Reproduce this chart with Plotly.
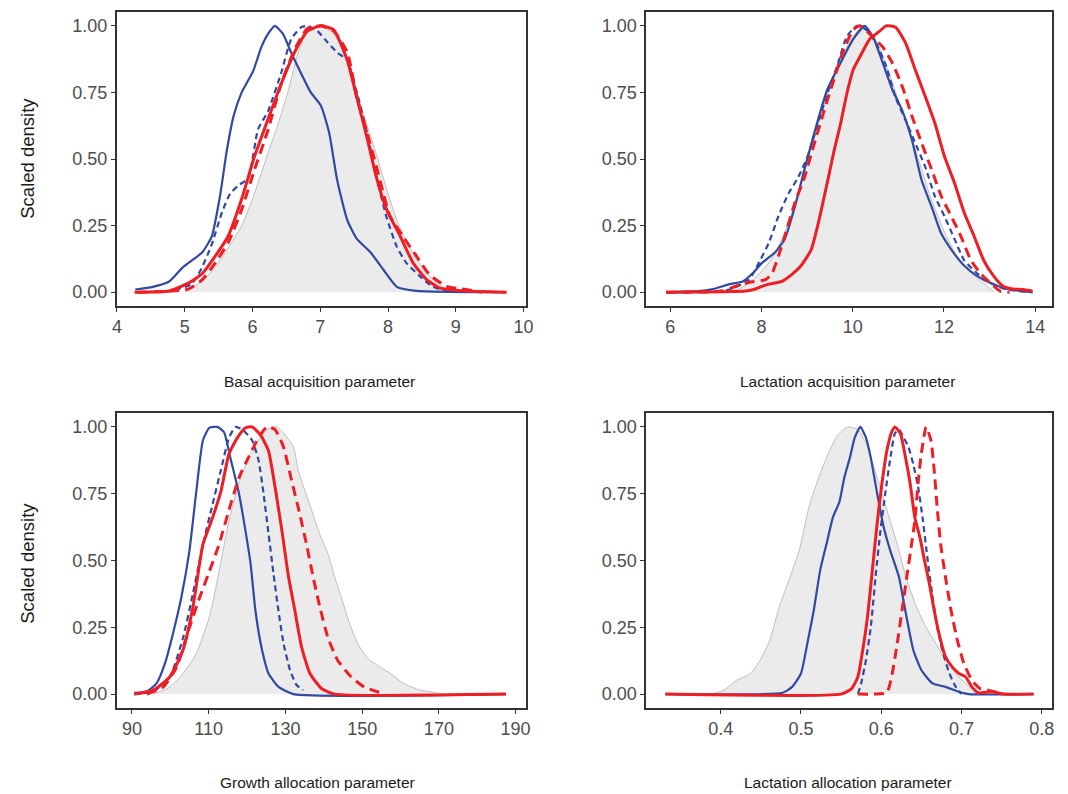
import plotly.graph_objects as go

# ---------------- Data ----------------
# Panel 1: Basal acquisition parameter
p1_prior_x = [5.0, 5.3, 5.6, 5.84, 6.0, 6.2, 6.4, 6.52, 6.7, 6.85, 7.0, 7.2, 7.4, 7.6, 7.8, 8.0, 8.13, 8.2, 8.4, 8.6, 8.8, 9.0]
p1_prior_y = [0.0, 0.05, 0.15, 0.25, 0.35, 0.5, 0.65, 0.75, 0.92, 0.99, 1.0, 0.97, 0.87, 0.70, 0.54, 0.37, 0.27, 0.23, 0.13, 0.065, 0.02, 0.0]

p1_blue_x = [4.27, 4.53, 4.77, 4.96, 5.11, 5.26, 5.40, 5.52, 5.62, 5.72, 5.84, 6.01, 6.13, 6.23, 6.33, 6.45, 6.57, 6.72, 6.86, 7.01, 7.13, 7.25, 7.40, 7.54, 7.74, 7.93, 8.13, 8.42, 9.73]
p1_blue_y = [0.01, 0.02, 0.04, 0.09, 0.12, 0.15, 0.21, 0.36, 0.53, 0.66, 0.75, 0.83, 0.92, 0.97, 1.0, 0.97, 0.90, 0.82, 0.75, 0.70, 0.60, 0.42, 0.27, 0.20, 0.15, 0.085, 0.02, 0.005, 0.0]

p1_bluedash_x = [4.27, 4.8, 5.1, 5.25, 5.40, 5.55, 5.67, 5.79, 5.94, 6.08, 6.23, 6.42, 6.57, 6.72, 6.81, 6.96, 7.10, 7.25, 7.40, 7.54, 7.69, 7.83, 7.98, 8.13, 8.27, 8.47, 8.66, 8.9, 9.73]
p1_bluedash_y = [0.0, 0.005, 0.03, 0.09, 0.18, 0.30, 0.37, 0.40, 0.43, 0.61, 0.68, 0.82, 0.95, 0.995, 1.0, 0.98, 0.94, 0.90, 0.87, 0.75, 0.60, 0.43, 0.28, 0.17, 0.11, 0.06, 0.02, 0.004, 0.0]

p1_red_x = [4.26, 4.77, 5.06, 5.26, 5.45, 5.64, 5.84, 6.03, 6.23, 6.42, 6.62, 6.81, 7.01, 7.20, 7.40, 7.54, 7.69, 7.83, 7.98, 8.18, 8.37, 8.57, 8.76, 9.15, 9.75]
p1_red_y = [0.0, 0.004, 0.035, 0.07, 0.135, 0.21, 0.35, 0.51, 0.65, 0.78, 0.90, 0.98, 1.0, 0.985, 0.87, 0.73, 0.58, 0.43, 0.31, 0.21, 0.11, 0.047, 0.016, 0.004, 0.0]

p1_reddash_x = [4.3, 4.8, 5.06, 5.26, 5.45, 5.64, 5.84, 6.03, 6.23, 6.42, 6.62, 6.81, 7.01, 7.20, 7.40, 7.54, 7.69, 7.83, 8.03, 8.22, 8.42, 8.61, 8.86, 9.15, 9.39]
p1_reddash_y = [0.0, 0.004, 0.012, 0.047, 0.11, 0.185, 0.31, 0.46, 0.61, 0.78, 0.91, 0.99, 1.0, 0.98, 0.90, 0.73, 0.60, 0.47, 0.285, 0.21, 0.135, 0.066, 0.022, 0.01, 0.0]

# Panel 2: Lactation acquisition parameter
p2_prior_x = [7.3, 7.6, 7.9, 8.2, 8.5, 8.8, 9.1, 9.4, 9.7, 10.0, 10.25, 10.5, 10.8, 11.1, 11.4, 11.7, 12.0, 12.3, 12.6, 12.9, 13.1]
p2_prior_y = [0.0, 0.02, 0.06, 0.12, 0.22, 0.37, 0.55, 0.72, 0.86, 0.96, 1.0, 0.95, 0.82, 0.67, 0.52, 0.36, 0.23, 0.13, 0.07, 0.03, 0.0]

p2_blue_x = [5.91, 6.59, 6.94, 7.3, 7.59, 7.8, 8.01, 8.3, 8.51, 8.73, 8.94, 9.16, 9.44, 9.73, 10.01, 10.26, 10.44, 10.66, 10.87, 11.09, 11.3, 11.51, 11.73, 11.94, 12.16, 12.44, 12.73, 13.01, 13.3, 13.59, 13.94]
p2_blue_y = [0.0, 0.004, 0.012, 0.03, 0.04, 0.07, 0.11, 0.15, 0.2, 0.32, 0.46, 0.6, 0.76, 0.86, 0.95, 1.0, 0.96, 0.86, 0.76, 0.68, 0.57, 0.42, 0.32, 0.22, 0.16, 0.1, 0.06, 0.035, 0.016, 0.007, 0.0]

p2_bluedash_x = [5.91, 6.9, 7.3, 7.73, 7.94, 8.16, 8.37, 8.59, 8.8, 9.01, 9.23, 9.44, 9.66, 9.87, 10.09, 10.3, 10.51, 10.73, 10.94, 11.16, 11.37, 11.59, 11.8, 12.01, 12.23, 12.44, 12.73, 13.01, 13.37, 13.94]
p2_bluedash_y = [0.0, 0.002, 0.01, 0.047, 0.11, 0.185, 0.285, 0.37, 0.43, 0.51, 0.63, 0.745, 0.85, 0.96, 1.0, 0.985, 0.935, 0.85, 0.73, 0.645, 0.56, 0.47, 0.36, 0.285, 0.2, 0.12, 0.07, 0.035, 0.01, 0.0]

p2_red_x = [5.91, 7.66, 7.87, 8.01, 8.16, 8.44, 8.66, 8.87, 9.09, 9.26, 9.44, 9.59, 9.73, 9.87, 10.01, 10.16, 10.37, 10.59, 10.73, 10.94, 11.16, 11.37, 11.59, 11.8, 12.01, 12.23, 12.44, 12.66, 12.87, 13.09, 13.3, 13.51, 13.73, 13.94]
p2_red_y = [0.0, 0.004, 0.012, 0.022, 0.03, 0.04, 0.066, 0.1, 0.16, 0.27, 0.41, 0.53, 0.63, 0.745, 0.835, 0.885, 0.95, 0.98, 1.0, 0.995, 0.935, 0.835, 0.735, 0.635, 0.51, 0.41, 0.3, 0.21, 0.12, 0.06, 0.022, 0.012, 0.01, 0.004]

p2_reddash_x = [5.91, 7.16, 7.44, 7.73, 8.09, 8.23, 8.37, 8.51, 8.73, 8.94, 9.16, 9.37, 9.59, 9.8, 10.01, 10.16, 10.37, 10.66, 10.87, 11.09, 11.3, 11.51, 11.73, 11.94, 12.16, 12.37, 12.59, 12.8, 13.01, 13.23, 13.44]
p2_reddash_y = [0.0, 0.004, 0.022, 0.037, 0.047, 0.07, 0.135, 0.21, 0.335, 0.43, 0.56, 0.68, 0.8, 0.91, 0.985, 1.0, 0.97, 0.92, 0.86, 0.77, 0.66, 0.56, 0.46, 0.36, 0.285, 0.21, 0.12, 0.07, 0.035, 0.004, 0.0]

# Panel 3: Growth allocation parameter
p3_prior_x = [95.6, 99.9, 103.3, 106.7, 110.2, 112.7, 115.3, 117.9, 120.5, 123.0, 125.6, 127.8, 129.9, 132.1, 133.3, 135.1, 136.8, 138.9, 141.1, 142.8, 144.5, 146.7, 148.8, 151.4, 154.8, 157.4, 160.8, 165.1, 169.4, 170.3]
p3_prior_y = [0.0, 0.027, 0.077, 0.15, 0.29, 0.46, 0.65, 0.79, 0.89, 0.95, 0.994, 1.0, 0.97, 0.925, 0.84, 0.76, 0.69, 0.6, 0.525, 0.44, 0.365, 0.265, 0.19, 0.135, 0.1, 0.077, 0.04, 0.015, 0.005, 0.0]

p3_blue_x = [90.6, 93.9, 96.4, 98.6, 100.7, 102.9, 105.0, 106.7, 108.5, 110.2, 112.3, 114.0, 115.8, 117.9, 119.6, 120.9, 122.2, 123.9, 125.6, 128.2, 132.1, 187.5]
p3_blue_y = [0.005, 0.01, 0.04, 0.115, 0.227, 0.364, 0.539, 0.75, 0.95, 0.997, 1.0, 0.98, 0.875, 0.75, 0.61, 0.49, 0.31, 0.165, 0.077, 0.027, 0.0, 0.0]

p3_bluedash_x = [90.6, 95.6, 99.9, 103.3, 105.9, 108.5, 111.0, 113.2, 115.3, 117.0, 118.8, 121.3, 123.0, 124.3, 125.6, 126.9, 128.2, 129.5, 131.2, 132.9, 134.6]
p3_bluedash_y = [0.0, 0.01, 0.065, 0.21, 0.377, 0.56, 0.71, 0.84, 0.96, 1.0, 0.99, 0.95, 0.875, 0.75, 0.6, 0.45, 0.31, 0.19, 0.09, 0.034, 0.015]

p3_red_x = [90.6, 95.6, 99.9, 103.3, 105.9, 108.5, 111.0, 113.2, 115.3, 117.5, 119.6, 121.3, 123.5, 125.6, 127.3, 129.1, 130.8, 132.5, 134.2, 136.4, 139.4, 142.8, 187.5]
p3_red_y = [0.0, 0.015, 0.065, 0.165, 0.327, 0.56, 0.66, 0.76, 0.9, 0.96, 0.997, 1.0, 0.97, 0.91, 0.775, 0.61, 0.44, 0.31, 0.177, 0.077, 0.021, 0.0, 0.0]

p3_reddash_x = [93.9, 98.2, 101.6, 105.0, 107.6, 110.2, 112.7, 115.3, 117.9, 120.5, 123.0, 125.2, 127.3, 129.5, 131.6, 133.8, 135.5, 137.2, 138.9, 141.1, 143.6, 147.1, 150.5, 154.8]
p3_reddash_y = [0.0, 0.027, 0.1, 0.25, 0.36, 0.46, 0.56, 0.69, 0.81, 0.89, 0.96, 1.0, 0.99, 0.925, 0.8, 0.67, 0.56, 0.44, 0.33, 0.21, 0.127, 0.065, 0.027, 0.005]

# Panel 4: Lactation allocation parameter
p4_prior_x = [0.388, 0.404, 0.42, 0.437, 0.449, 0.461, 0.473, 0.485, 0.498, 0.51, 0.522, 0.534, 0.546, 0.559, 0.571, 0.583, 0.595, 0.607, 0.62, 0.632, 0.644, 0.656, 0.668, 0.68, 0.693, 0.705, 0.717, 0.72]
p4_prior_y = [0.0, 0.015, 0.052, 0.077, 0.127, 0.2, 0.327, 0.426, 0.54, 0.70, 0.81, 0.9, 0.97, 1.0, 0.99, 0.925, 0.81, 0.69, 0.56, 0.426, 0.327, 0.25, 0.19, 0.127, 0.077, 0.04, 0.009, 0.0]

p4_blue_x = [0.331, 0.477, 0.489, 0.5, 0.508, 0.516, 0.524, 0.532, 0.54, 0.548, 0.554, 0.561, 0.567, 0.574, 0.581, 0.587, 0.595, 0.603, 0.611, 0.622, 0.63, 0.64, 0.65, 0.664, 0.68, 0.697, 0.709, 0.79]
p4_blue_y = [0.0, 0.005, 0.027, 0.077, 0.19, 0.314, 0.464, 0.564, 0.663, 0.72, 0.81, 0.885, 0.96, 1.0, 0.96, 0.885, 0.75, 0.626, 0.54, 0.44, 0.314, 0.165, 0.09, 0.04, 0.027, 0.009, 0.0, 0.0]

p4_bluedash_x = [0.571, 0.575, 0.581, 0.587, 0.593, 0.599, 0.605, 0.611, 0.617, 0.622, 0.628, 0.634, 0.64, 0.646, 0.652, 0.658, 0.664, 0.67, 0.676, 0.685, 0.693, 0.70]
p4_bluedash_y = [0.0, 0.04, 0.127, 0.25, 0.44, 0.61, 0.75, 0.875, 0.975, 0.99, 0.96, 0.925, 0.86, 0.775, 0.65, 0.5, 0.364, 0.25, 0.165, 0.077, 0.027, 0.0]

p4_red_x = [0.331, 0.55, 0.563, 0.571, 0.577, 0.583, 0.589, 0.595, 0.601, 0.607, 0.613, 0.617, 0.624, 0.63, 0.636, 0.642, 0.648, 0.654, 0.66, 0.666, 0.672, 0.68, 0.689, 0.697, 0.705, 0.713, 0.721, 0.737, 0.754, 0.79]
p4_red_y = [0.0, 0.0, 0.02, 0.065, 0.165, 0.29, 0.464, 0.64, 0.79, 0.91, 0.98, 1.0, 0.975, 0.89, 0.79, 0.66, 0.59, 0.5, 0.414, 0.314, 0.227, 0.14, 0.1, 0.077, 0.065, 0.027, 0.005, 0.009, 0.0, 0.0]

p4_reddash_x = [0.571, 0.591, 0.607, 0.613, 0.62, 0.626, 0.632, 0.638, 0.642, 0.646, 0.65, 0.656, 0.662, 0.666, 0.67, 0.674, 0.68, 0.687, 0.695, 0.703, 0.713, 0.723, 0.733, 0.746, 0.75]
p4_reddash_y = [0.0, 0.0, 0.005, 0.065, 0.19, 0.314, 0.44, 0.564, 0.65, 0.79, 0.9, 1.0, 0.95, 0.84, 0.69, 0.564, 0.44, 0.314, 0.2, 0.115, 0.052, 0.021, 0.015, 0.005, 0.0]

x_titles = ["Basal acquisition parameter", "Lactation acquisition parameter",
            "Growth allocation parameter", "Lactation allocation parameter"]
y_title = "Scaled density"
y_ticks = [0, 0.25, 0.5, 0.75, 1.0]
y_ticklabels = ["0.00", "0.25", "0.50", "0.75", "1.00"]
x_ticks = [[4, 5, 6, 7, 8, 9, 10], [6, 8, 10, 12, 14],
           [90, 110, 130, 150, 170, 190], [0.4, 0.5, 0.6, 0.7, 0.8]]
x_ticklabels = [["4", "5", "6", "7", "8", "9", "10"], ["6", "8", "10", "12", "14"],
                ["90", "110", "130", "150", "170", "190"], ["0.4", "0.5", "0.6", "0.7", "0.8"]]
x_ranges = [[3.995, 10.03], [5.47, 14.37], [86.0, 192.6], [0.307, 0.813]]

panels = [
    (p1_prior_x, p1_prior_y, p1_blue_x, p1_blue_y, p1_bluedash_x, p1_bluedash_y, p1_red_x, p1_red_y, p1_reddash_x, p1_reddash_y),
    (p2_prior_x, p2_prior_y, p2_blue_x, p2_blue_y, p2_bluedash_x, p2_bluedash_y, p2_red_x, p2_red_y, p2_reddash_x, p2_reddash_y),
    (p3_prior_x, p3_prior_y, p3_blue_x, p3_blue_y, p3_bluedash_x, p3_bluedash_y, p3_red_x, p3_red_y, p3_reddash_x, p3_reddash_y),
    (p4_prior_x, p4_prior_y, p4_blue_x, p4_blue_y, p4_bluedash_x, p4_bluedash_y, p4_red_x, p4_red_y, p4_reddash_x, p4_reddash_y),
]

# ---------------- Styling / layout ----------------
W, H = 1068, 794
BLUE = "#3049A3"
RED = "#EE1E24"
FONT = "Liberation Sans, Arial, sans-serif"

# pixel boxes of panels: (left, right, top, bottom)
boxes = [(113, 527, 12, 306), (649, 1060, 12, 306), (113, 527, 413, 708), (649, 1060, 413, 708)]

fig = go.Figure()
for i, data in enumerate(panels):
    px, py, bx, by, bdx, bdy, rx, ry, rdx, rdy = data
    xa = "x" if i == 0 else f"x{i+1}"
    ya = "y" if i == 0 else f"y{i+1}"
    common = dict(xaxis=xa, yaxis=ya, mode="lines", showlegend=False, hoverinfo="skip")
    fig.add_trace(go.Scatter(x=px, y=py, fill="tozeroy", fillcolor="#EBEBEB",
                             line=dict(color="#B8B8B8", width=0.9, shape="spline", smoothing=0.6), **common))
    fig.add_trace(go.Scatter(x=bx, y=by, line=dict(color=BLUE, width=2.2, shape="spline", smoothing=0.5), **common))
    fig.add_trace(go.Scatter(x=bdx, y=bdy, line=dict(color=BLUE, width=2.2, dash="6px,4px", shape="spline", smoothing=0.5), **common))
    fig.add_trace(go.Scatter(x=rx, y=ry, line=dict(color=RED, width=3.0, shape="spline", smoothing=0.5), **common))
    fig.add_trace(go.Scatter(x=rdx, y=rdy, line=dict(color=RED, width=3.0, dash="10px,6px", shape="spline", smoothing=0.5), **common))

layout = dict(width=W, height=H, margin=dict(l=0, r=0, t=0, b=0),
              paper_bgcolor="white", plot_bgcolor="white", showlegend=False,
              font=dict(family=FONT, size=18, color="#4D4D4D"))
for i, (l, r, t, b) in enumerate(boxes):
    xk = "xaxis" if i == 0 else f"xaxis{i+1}"
    yk = "yaxis" if i == 0 else f"yaxis{i+1}"
    ya = "y" if i == 0 else f"y{i+1}"
    xa = "x" if i == 0 else f"x{i+1}"
    layout[xk] = dict(domain=[l / W, r / W], anchor=ya, range=x_ranges[i],
                      tickvals=x_ticks[i], ticktext=x_ticklabels[i],
                      showgrid=False, zeroline=False, showline=True, mirror=True,
                      linecolor="#333333", linewidth=1.6, ticks="outside", ticklen=4,
                      tickcolor="#333333", tickwidth=1.2, tickfont=dict(size=18, color="#4D4D4D"))
    layout[yk] = dict(domain=[1 - b / H, 1 - t / H], anchor=xa, range=[-0.052, 1.052],
                      tickvals=y_ticks, ticktext=y_ticklabels,
                      showgrid=False, zeroline=False, showline=True, mirror=True,
                      linecolor="#333333", linewidth=1.6, ticks="outside", ticklen=4,
                      tickcolor="#333333", tickwidth=1.2, tickfont=dict(size=18, color="#4D4D4D"))
fig.update_layout(**layout)

title_pos = [(318, 382), (853, 382), (316, 782), (853, 782)]
for (cx, cy), txt in zip(title_pos, x_titles):
    fig.add_annotation(x=cx / W, y=1 - cy / H, xref="paper", yref="paper", text=txt,
                       showarrow=False, xanchor="center", yanchor="middle",
                       font=dict(family=FONT, size=15.5, color="#1A1A1A"))
for cy in (158, 563):
    fig.add_annotation(x=22 / W, y=1 - cy / H, xref="paper", yref="paper", text=y_title,
                       showarrow=False, textangle=-90, xanchor="center", yanchor="middle",
                       font=dict(family=FONT, size=18.5, color="#1A1A1A"))

fig.write_html("out.html", config={"displayModeBar": False},
               post_script="document.body.style.margin='0';document.body.style.padding='0';document.body.style.overflow='hidden';")
